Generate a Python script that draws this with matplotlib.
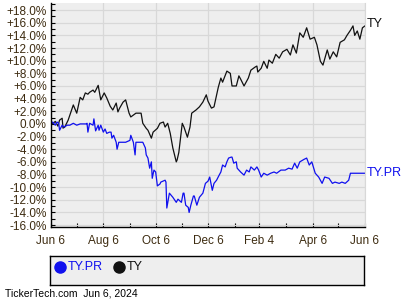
import numpy as np
import pandas as pd
import matplotlib
matplotlib.use("Agg")
import matplotlib.pyplot as plt
import matplotlib.dates as mdates
from matplotlib.ticker import MultipleLocator, FuncFormatter

plt.rcParams['font.family'] = ['Liberation Sans', 'DejaVu Sans']

start = pd.Timestamp('2023-06-06')

# TY (common) - days since Jun 6 2023, % change
ty_days = [0, 5, 8, 10, 13, 14, 16, 20, 22, 26, 30, 34, 37, 40, 43, 45, 49, 51, 55, 58,
           62, 65, 69, 72, 76, 78, 80, 84, 87, 91, 93, 99, 105, 107, 111, 113, 117, 119, 124, 127,
           131, 133, 136, 139, 142, 146, 147, 149, 153, 155, 159, 162, 164, 169, 173, 177, 181, 183, 187, 190,
           195, 198, 200, 205, 209, 211, 216, 219, 221, 225, 230, 233, 238, 240, 241, 245, 248, 252, 254, 258,
           262, 266, 270, 275, 279, 282, 286, 290, 294, 298, 302, 307, 310, 314, 317, 322, 325, 329, 333, 337,
           342, 345, 349, 352, 354, 357, 360, 363, 366]
ty_pct = [-0.2, 0.4, -0.35, 0.6, 0.9, -0.66, -0.5, 0.6, 1.4, 3.0, 1.7, 4.2, 3.8, 4.9, 4.7, 5.0, 5.35, 5.0, 6.1, 3.8,
          4.9, 4.1, 2.8, 2.2, 3.3, 1.9, 2.5, 3.45, 3.8, 1.7, 1.1, 1.7, 1.7, 0.1, -0.7, -1.0, -2.25, -1.3, -0.7, 0.1,
          0.3, -0.5, 0.1, -1.5, -3.8, -6.0, -5.7, -4.5, 0.1, -0.5, -2.1, -0.5, 1.7, 2.2, 2.7, 3.45, 4.6, 3.6, 2.5, 2.7,
          5.8, 7.25, 6.6, 8.35, 8.0, 6.0, 6.0, 7.6, 7.1, 6.0, 7.25, 8.5, 9.0, 9.15, 8.2, 8.8, 9.9, 8.8, 10.1, 9.6,
          11.0, 10.4, 11.4, 11.8, 10.9, 12.5, 11.2, 14.4, 13.7, 15.2, 13.4, 13.7, 12.5, 9.9, 9.3, 11.7, 10.25, 11.4, 10.6, 12.9,
          13.3, 14.0, 14.8, 15.5, 14.0, 14.7, 13.4, 15.2, 15.5]

# TY.PR (preferred)
pr_days = [0, 2, 5, 7, 9, 10, 13, 15, 19, 22, 26, 30, 34, 37, 41, 42, 43, 45, 49, 50,
           52, 55, 56, 58, 61, 63, 65, 68, 70, 71, 73, 76, 77, 79, 87, 92, 93, 96, 98, 99,
           107, 110, 111, 113, 115, 117, 118, 120, 122, 124, 127, 128, 133, 134, 135, 138, 142, 146, 148, 152,
           154, 155, 157, 160, 161, 163, 166, 167, 170, 173, 177, 180, 183, 185, 188, 190, 193, 196, 198, 200,
           203, 205, 207, 210, 211, 213, 216, 217, 221, 225, 228, 231, 233, 237, 240, 242, 245, 248, 252, 256,
           260, 263, 268, 273, 277, 281, 284, 287, 290, 295, 298, 301, 304, 308, 312, 316, 319, 324, 328, 331,
           336, 339, 343, 347, 349, 366]
pr_pct = [0.0, 0.3, -0.2, 0.3, 0.1, -1.0, -0.2, -0.5, -0.2, -0.2, 0.1, -0.2, 0.0, 0.0, 0.0, 0.1, -1.3, 0.1, -0.2, 0.8,
          -1.1, -0.2, -1.0, -0.2, -1.3, -0.8, -1.5, -1.3, -1.3, -2.25, -1.8, -2.9, -4.0, -2.9, -2.9, -2.6, -1.8, -2.9, -4.9, -2.9,
          -2.9, -3.8, -4.9, -5.4, -7.0, -6.0, -8.6, -7.3, -7.6, -9.8, -9.5, -9.2, -8.9, -9.2, -13.3, -10.95, -11.6, -12.4, -11.9, -12.4,
          -10.95, -10.95, -12.85, -13.2, -14.0, -12.85, -11.4, -11.4, -12.85, -11.6, -10.95, -9.4, -9.05, -8.4, -10.5, -9.4, -8.9, -8.1, -7.6, -6.5,
          -6.8, -6.0, -5.4, -5.25, -5.25, -6.2, -6.0, -7.0, -7.6, -8.1, -7.3, -7.6, -6.8, -7.3, -6.8, -7.3, -8.4, -7.8, -8.1, -7.8,
          -7.6, -7.8, -7.3, -7.3, -7.0, -7.15, -6.2, -7.0, -6.0, -5.6, -5.4, -6.5, -6.0, -7.8, -8.4, -9.4, -8.4, -8.6, -9.4, -9.2,
          -9.4, -9.2, -9.4, -8.9, -7.8, -7.8]

xtick_dates = ['2023-06-06', '2023-08-06', '2023-10-06', '2023-12-06', '2024-02-04', '2024-04-06', '2024-06-06']
xtick_labels = ['Jun 6', 'Aug 6', 'Oct 6', 'Dec 6', 'Feb 4', 'Apr 6', 'Jun 6']
minor_dates = ['2023-07-06', '2023-09-06', '2023-11-06', '2024-01-06', '2024-03-06', '2024-05-06']

ty_x = start + pd.to_timedelta(ty_days, unit='D')
pr_x = start + pd.to_timedelta(pr_days, unit='D')

label_color = '#3d2b10'
blue = '#1010ee'

fig = plt.figure(figsize=(4.2, 3.0), dpi=100)
ax = fig.add_axes([51 / 420, 1 - 227 / 300, 314 / 420, 224.5 / 300])
ax.set_facecolor('#eeeeee')

ax.plot(ty_x, ty_pct, color='#111111', lw=0.9)
ax.plot(pr_x, pr_pct, color=blue, lw=0.9)

ax.set_xlim(start, pd.Timestamp('2024-06-06'))
ax.set_ylim(-16.3, 19.2)

ax.set_xticks(pd.to_datetime(xtick_dates))
ax.set_xticklabels(xtick_labels)
ax.set_xticks(pd.to_datetime(minor_dates), minor=True)
ax.yaxis.set_major_locator(MultipleLocator(2))
ax.yaxis.set_minor_locator(MultipleLocator(1))
ax.yaxis.set_major_formatter(FuncFormatter(lambda v, p: '0.0%' if abs(v) < 1e-9 else f'{v:+.1f}%'))

ax.grid(True, which='major', color='#d8d8d8', lw=0.9)
ax.set_axisbelow(True)
ax.tick_params(which='both', direction='in', length=3, width=0.8, colors='black',
               labelcolor=label_color, labelsize=8.5)
ax.tick_params(axis='x', pad=6)
ax.tick_params(axis='y', pad=3)

for s in ['top']:
    ax.spines[s].set_visible(False)
ax.spines['right'].set_color('#d8d8d8')
ax.spines['left'].set_linewidth(1.0)
ax.spines['bottom'].set_linewidth(1.0)

ax.text(1.006, (ty_pct[-1] + 16.3) / 35.5 + 0.01, 'TY', transform=ax.transAxes,
        color='#111111', fontsize=9, va='center', ha='left', clip_on=False)
ax.text(1.006, (pr_pct[-1] + 16.3) / 35.5, 'TY.PR', transform=ax.transAxes,
        color=blue, fontsize=9, va='center', ha='left', clip_on=False)

# legend box
lax = fig.add_axes([50 / 420, 1 - 285 / 300, 314 / 420, 29 / 300])
lax.set_facecolor('#eeeeee')
lax.set_xticks([])
lax.set_yticks([])
for s in lax.spines.values():
    s.set_color('black')
    s.set_linewidth(1.0)
lax.set_xlim(0, 314)
lax.set_ylim(0, 29)
lax.plot([10], [18.5], 'o', color=blue, ms=8)
lax.text(18, 18.5, 'TY.PR', color=blue, fontsize=9, va='center', ha='left')
lax.plot([69], [18.5], 'o', color='#111111', ms=8)
lax.text(77, 18.5, 'TY', color='#111111', fontsize=9, va='center', ha='left')

fig.text(5 / 420, 1 - 294 / 300, 'TickerTech.com  Jun 6, 2024', fontsize=7.5,
         color='black', va='center', ha='left')

fig.savefig('out.png', dpi=100)
